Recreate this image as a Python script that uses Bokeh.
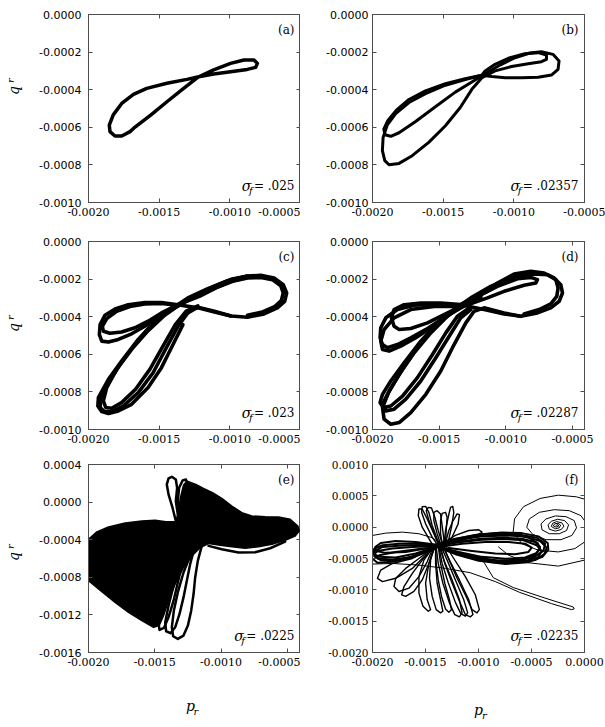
import numpy as np
from bokeh.plotting import figure
from bokeh.models import Range1d, FixedTicker, PrintfTickFormatter, LinearAxis, Label
from bokeh.layouts import gridplot
from bokeh.embed import file_html
from bokeh.resources import INLINE

# Phase portraits (p_r, q_r). All coordinate lists are in units of 1e-4.
UNIT = 1e-4

# ---------------- axis ticks and annotations ----------------
x_ticks = [-0.0020, -0.0015, -0.0010, -0.0005]
x_ticks_f = [-0.0020, -0.0015, -0.0010, -0.0005, 0.0]
y_ticks_ad = [0.0, -0.0002, -0.0004, -0.0006, -0.0008, -0.0010]
y_ticks_e = [0.0004, 0.0, -0.0004, -0.0008, -0.0012, -0.0016]
y_ticks_f = [0.0010, 0.0005, 0.0, -0.0005, -0.0010, -0.0015, -0.0020]
panel_tags = ["(a)", "(b)", "(c)", "(d)", "(e)", "(f)"]
sigma_values = [".025", ".02357", ".023", ".02287", ".0225", ".02235"]

# ---------------- (a) sigma_f = .025 : period-1 orbit ----------------
a_p = [-12.2, -11.14, -9.95, -9.0, -8.29, -8.05, -8.17, -8.77, -9.95, -11.14, -12.2, -13.03, -14.45,
       -15.88, -16.82, -17.65, -18.25, -18.53, -18.48, -18.13, -17.65, -17.06, -16.8, -15.6, -14.45, -13.27, -12.2]
a_q = [-3.31, -2.95, -2.6, -2.42, -2.42, -2.6, -2.81, -2.92, -3.04, -3.17, -3.31, -3.45, -3.66,
       -3.93, -4.25, -4.73, -5.34, -5.88, -6.23, -6.46, -6.46, -6.23, -6.05, -5.35, -4.64, -3.93, -3.31]

# ---------------- (b) sigma_f = .02357 : period-2 orbit ----------------
b1_p = [-12.26, -13.44, -14.84, -16.25, -17.42, -18.31, -18.92, -19.20, -19.11, -18.71, -18.12, -16.95, -15.55, -14.14, -12.97,
        -12.03, -10.98, -9.92, -8.87, -8.05, -7.23, -6.80, -6.87, -7.34, -8.28, -9.45, -10.62, -11.56, -12.26]
b1_q = [-3.23, -3.41, -3.68, -4.06, -4.52, -5.09, -5.65, -6.10, -6.40, -6.48, -6.29, -5.69, -4.91, -4.13, -3.59,
        -3.15, -2.69, -2.30, -2.05, -1.98, -2.12, -2.47, -2.92, -3.22, -3.34, -3.37, -3.36, -3.30, -3.23]
b2_p = [-12.26, -13.44, -14.84, -16.25, -17.42, -18.36, -18.95, -19.25, -19.30, -19.13, -18.83, -18.12, -17.19, -16.02, -14.84,
        -13.79, -12.97, -12.26, -11.33, -10.16, -8.98, -8.05, -7.69, -7.69, -8.28, -9.22, -10.39, -11.33, -12.03, -12.26]
b2_q = [-3.23, -3.46, -3.76, -4.21, -4.68, -5.27, -5.87, -6.54, -7.24, -7.77, -7.99, -7.92, -7.51, -6.80, -5.92,
        -4.95, -3.98, -3.36, -3.00, -2.77, -2.62, -2.51, -2.39, -2.16, -2.03, -2.09, -2.33, -2.65, -3.00, -3.23]

# ---------------- (c) sigma_f = .023 ----------------
c_r1_p = [-13.67, -12.26, -11.09, -9.92, -8.75, -7.81, -6.87, -6.22, -5.98, -6.12, -6.64, -7.58, -8.75, -9.92, -11.09, -12.26, -13.67]
c_r1_q = [-3.36, -2.83, -2.39, -2.01, -1.84, -1.80, -1.94, -2.30, -2.74, -3.18, -3.53, -3.85, -4.03, -3.96, -3.75, -3.53, -3.36]
c_r2_p = [-12.97, -12.15, -10.98, -9.80, -8.75, -7.81, -6.99, -6.40, -6.22, -6.36, -6.83, -7.69, -8.75]
c_r2_q = [-3.15, -2.92, -2.47, -2.12, -1.94, -1.91, -2.03, -2.35, -2.74, -3.15, -3.46, -3.75, -3.92]
c_s1_p = [-13.67, -14.84, -16.02, -17.19, -18.12, -18.83, -19.18, -19.23, -19.06, -18.59, -17.89, -16.95, -16.02, -15.08,
          -14.14, -12.97, -11.56, -10.16, -8.75]
c_s1_q = [-3.36, -3.25, -3.25, -3.36, -3.59, -3.92, -4.42, -4.95, -5.30, -5.35, -5.21, -4.91, -4.51, -4.03,
          -3.62, -3.15, -2.62, -2.16, -1.87]
c_s2_p = [-13.67, -14.84, -16.02, -17.07, -18.01, -18.71, -19.02, -18.95, -18.48, -17.66, -16.72, -15.78, -14.84, -13.91,
          -12.73, -11.33, -9.92, -8.51]
c_s2_q = [-3.39, -3.30, -3.32, -3.46, -3.71, -4.10, -4.51, -4.77, -4.88, -4.81, -4.59, -4.24, -3.80, -3.45,
          -3.04, -2.56, -2.12, -1.86]
c_b1_p = [-8.75, -10.16, -11.56, -12.97, -14.37, -15.55, -16.72, -17.77, -18.59, -19.11, -19.18, -18.87, -18.36, -17.54,
          -16.48, -15.43, -14.49, -13.67, -12.97, -12.26, -11.09, -9.92]
c_b1_q = [-1.84, -2.09, -2.51, -3.00, -3.71, -4.51, -5.48, -6.54, -7.51, -8.30, -8.83, -9.05, -9.05, -8.75,
          -8.04, -6.98, -5.65, -4.51, -3.80, -3.50, -3.71, -3.96]
c_b2_p = [-8.98, -10.39, -11.80, -13.20, -14.61, -15.78, -16.95, -18.01, -18.71, -18.95, -18.78, -18.36, -17.66, -16.67,
          -15.66, -14.73, -13.86, -13.09, -12.26]
c_b2_q = [-1.91, -2.19, -2.65, -3.18, -3.92, -4.74, -5.74, -6.80, -7.77, -8.48, -8.83, -8.87, -8.57, -7.86,
          -6.80, -5.57, -4.42, -3.71, -3.43]
c_b3_p = [-14.14, -15.31, -16.48, -17.66, -18.59, -19.30, -19.34, -19.06, -18.59, -17.89, -16.95, -15.78, -14.84, -14.02, -13.32]
c_b3_q = [-3.53, -4.24, -5.21, -6.36, -7.33, -8.30, -8.75, -9.05, -9.15, -9.01, -8.66, -7.77, -6.71, -5.48, -4.42]

# ---------------- (d) sigma_f = .02287 ----------------
d_r1_p = [-13.38, -11.88, -10.63, -9.38, -8.13, -7.13, -6.38, -5.88, -5.75, -6.00, -6.63, -7.63, -8.88, -10.13, -11.63, -13.38]
d_r1_q = [-3.36, -2.74, -2.21, -1.73, -1.59, -1.68, -1.94, -2.30, -2.74, -3.18, -3.53, -3.80, -3.98, -3.85, -3.62, -3.36]
d_r2_p = [-12.63, -11.38, -10.13, -8.88, -7.88, -6.88, -6.25, -6.08, -6.18, -6.63, -7.50, -8.63]
d_r2_q = [-3.09, -2.65, -2.12, -1.77, -1.73, -1.77, -2.03, -2.47, -2.92, -3.32, -3.62, -3.85]
d_r3_p = [-12.13, -10.63, -9.13, -8.13, -7.63, -7.75, -8.63, -10.13, -11.38, -12.60]
d_r3_q = [-2.92, -2.39, -1.98, -1.91, -2.03, -2.21, -2.33, -2.65, -3.00, -3.30]
d_s1_p = [-13.38, -14.88, -16.38, -17.63, -18.38, -18.58, -18.38, -18.00, -17.13, -15.88, -14.63, -13.38, -11.88]
d_s1_q = [-3.36, -3.27, -3.27, -3.36, -3.62, -4.06, -4.51, -4.68, -4.63, -4.33, -3.89, -3.45, -2.92]
d_s2_p = [-13.38, -15.13, -16.88, -18.13, -19.00, -19.38, -19.43, -19.25, -18.88, -18.13, -17.13, -15.88, -14.63, -13.38, -11.88]
d_s2_q = [-3.39, -3.32, -3.39, -3.62, -4.06, -4.59, -5.12, -5.48, -5.65, -5.48, -5.12, -4.63, -4.06, -3.53, -2.97]
d_s3_p = [-13.63, -15.38, -17.13, -18.38, -19.13, -19.38, -19.25, -18.75, -17.88, -16.75, -15.63, -14.38]
d_s3_q = [-3.45, -3.45, -3.62, -4.06, -4.68, -5.30, -5.74, -5.83, -5.57, -5.12, -4.59, -3.98]
d_b1_p = [-8.13, -9.63, -11.13, -12.63, -14.13, -15.38, -16.63, -17.75, -18.75, -19.25, -19.13, -18.63, -18.00, -17.13,
          -16.00, -14.88, -13.88, -13.00, -12.38, -11.63, -10.13, -8.88]
d_b1_q = [-1.68, -1.94, -2.39, -3.00, -3.75, -4.59, -5.65, -6.80, -7.95, -8.83, -9.45, -9.72, -9.63, -9.10,
          -8.13, -6.89, -5.48, -4.33, -3.71, -3.53, -3.80, -3.98]
d_b2_p = [-8.38, -9.88, -11.38, -12.88, -14.38, -15.63, -16.88, -18.00, -18.88, -19.25, -19.00, -18.38, -17.50, -16.38,
          -15.25, -14.25, -13.38, -12.63]
d_b2_q = [-1.77, -2.09, -2.56, -3.18, -3.98, -4.86, -5.92, -7.07, -8.13, -8.66, -9.01, -8.92, -8.39, -7.42,
          -6.18, -5.04, -4.06, -3.62]
d_b3_p = [-13.88, -15.13, -16.38, -17.63, -18.63, -19.25, -19.43, -19.18, -18.63, -17.75, -16.63, -15.50, -14.50, -13.63, -12.75]
d_b3_q = [-3.62, -4.33, -5.30, -6.45, -7.42, -8.13, -8.57, -8.83, -8.75, -8.22, -7.24, -6.01, -4.86, -3.98, -3.53]

# ---------------- (e) sigma_f = .0225 : chaotic attractor ----------------
e_core_p = [-20.00, -19.37, -18.49, -17.23, -15.97, -14.97, -14.16, -13.41, -13.21, -13.06, -12.83, -12.55, -12.25, -11.90,
            -11.32, -10.64, -9.94, -9.18, -8.43, -7.67, -6.67, -5.66, -4.78, -4.20, -4.10, -4.40, -5.16, -6.16, -7.17,
            -8.17, -9.18, -10.06, -10.94, -11.57, -12.20, -12.83, -13.46, -13.96, -14.34, -14.67, -15.09, -15.97, -16.98,
            -17.99, -18.99, -20.00]
e_core_q = [-3.95, -3.17, -2.64, -2.22, -2.01, -1.94, -2.08, -2.08, -0.95, 0.47, 1.81, 2.23, 2.06, 1.88,
            1.46, 1.00, 0.40, -0.42, -1.12, -1.48, -1.55, -1.58, -1.83, -2.54, -3.07, -3.60, -4.06, -4.48, -4.76,
            -4.91, -4.76, -4.59, -4.41, -4.84, -5.72, -6.96, -8.72, -10.49, -12.08, -13.14, -13.32, -12.61, -11.73,
            -10.67, -9.54, -8.37]
e_t1_p = [-13.41, -13.66, -13.96, -14.09, -13.96, -13.71, -13.41, -13.31, -13.41, -13.26]
e_t1_q = [-2.01, -0.59, 0.82, 1.88, 2.52, 2.69, 2.41, 1.53, 0.11, -1.30]
e_t2_p = [-13.08, -13.26, -13.16, -12.90, -12.65, -12.50, -12.63, -12.70]
e_t2_q = [-1.65, 0.11, 1.53, 2.30, 2.41, 1.88, 0.47, -0.95]
e_rb_p = [-10.94, -9.94, -8.68, -7.42, -6.29, -5.16]
e_rb_q = [-4.66, -5.01, -5.37, -5.33, -4.91, -4.20]
e_b1_p = [-11.45, -11.75, -11.95, -12.07, -12.25, -12.50, -12.83, -13.26, -13.61, -13.71, -13.56, -13.26, -12.83, -12.33, -11.82]
e_b1_q = [-4.66, -6.25, -8.02, -9.78, -11.55, -13.14, -14.20, -14.55, -14.27, -13.32, -11.55, -9.61, -7.49, -5.72, -4.66]
e_b2_p = [-12.00, -12.33, -12.58, -12.83, -13.13, -13.46, -13.81, -14.14, -14.21, -13.96, -13.58, -13.16, -12.58]
e_b2_q = [-4.84, -6.60, -8.37, -10.14, -11.90, -13.32, -13.95, -13.74, -12.79, -11.02, -8.90, -6.78, -5.12]
e_b3_p = [-12.58, -12.96, -13.26, -13.58, -13.96, -14.31, -14.64, -14.72, -14.46, -14.09, -13.66, -13.16]
e_b3_q = [-5.01, -6.78, -8.55, -10.49, -12.26, -13.39, -13.60, -12.79, -11.02, -9.08, -7.13, -5.37]
e_b4_p = [-13.21, -13.58, -13.96, -14.34, -14.72, -15.02, -15.22, -14.97, -14.59, -14.16, -13.71]
e_b4_q = [-5.37, -7.31, -9.25, -11.20, -12.61, -13.14, -12.61, -10.84, -8.90, -6.96, -5.54]

# ---------------- (f) sigma_f = .02235 : transient and escape ----------------
f_sp_p = [-2.69, -2.50, -2.44, -2.69, -2.94, -2.82, -2.50, -2.25, -2.38, -2.75, -3.13, -3.00, -2.63, -2.13, -1.94,
          -2.19, -2.75, -3.32, -3.44, -3.13, -2.53, -1.88, -1.50, -1.69, -2.38, -3.32, -4.01, -4.10, -3.63, -2.75,
          -1.75, -0.97, -0.75, -1.19, -2.22, -3.63, -4.88, -5.45, -5.20, -4.26, -2.85, -1.44, -0.34, 0.00]
f_sp_q = [0.26, 0.42, 0.16, 0.00, 0.21, 0.53, 0.63, 0.32, -0.11, -0.26, 0.11, 0.63, 0.89, 0.68, 0.16,
          -0.37, -0.63, -0.32, 0.37, 0.95, 1.26, 1.05, 0.37, -0.53, -1.05, -1.05, -0.42, 0.53, 1.32, 1.79,
          1.68, 1.05, -0.11, -1.32, -2.00, -2.00, -1.16, 0.00, 1.32, 2.37, 2.79, 2.63, 1.84, 1.05]
f_ring_p = [0.00, -0.91, -2.47, -4.35, -5.92, -6.73, -6.60, -5.76, -4.19, -2.47, -0.75, 0.00]
f_ring_q = [-2.37, -3.42, -3.95, -3.68, -2.63, -0.79, 1.32, 3.26, 4.58, 5.11, 4.84, 4.47]
f_low_p = [-8.11, -7.17, -5.29, -2.47, 0.00]
f_low_q = [-3.16, -4.47, -5.68, -6.21, -5.26]
f_long_p = [-9.55, -8.61, -6.73, -3.72, -1.06, -0.97, -1.22, -3.10, -6.10, -8.42, -10.80, -13.11, -15.62, -18.12, -20.00]
f_long_q = [-5.42, -8.05, -9.63, -11.32, -12.74, -13.05, -13.16, -12.21, -10.42, -8.68, -7.26, -6.58, -6.05, -5.79, -5.89]
f_arc_p = [-20.00, -18.75, -17.18, -15.62, -14.37, -13.58]
f_arc_q = [-1.32, -0.95, -0.79, -1.05, -1.68, -2.63]

f_r1_p = [-14.05, -12.49, -10.61, -8.42, -6.23, -4.51, -3.72, -3.88, -4.82, -6.54, -8.73, -10.92, -12.80, -14.05]
f_r1_q = [-2.89, -2.21, -1.58, -1.16, -1.16, -1.68, -2.63, -3.79, -4.84, -5.37, -5.26, -4.47, -3.58, -2.89]
f_r2_p = [-14.05, -12.18, -9.98, -7.79, -5.92, -4.66, -4.19, -4.51, -5.60, -7.48, -9.67, -11.86, -13.74]
f_r2_q = [-3.05, -2.42, -1.89, -1.68, -1.84, -2.37, -3.16, -4.10, -4.84, -5.05, -4.74, -3.95, -3.16]
f_r3_p = [-13.90, -11.86, -9.67, -7.48, -5.60, -4.19, -3.57, -3.79, -4.66, -6.54, -8.73, -10.92, -12.80, -13.90]
f_r3_q = [-2.74, -2.00, -1.47, -1.32, -1.47, -2.21, -3.26, -4.31, -5.26, -5.68, -5.58, -4.84, -3.79, -3.16]
f_r4_p = [-13.74, -11.55, -9.36, -7.17, -5.60, -4.98, -5.29, -6.54, -8.42, -10.61, -12.80]
f_r4_q = [-3.16, -2.63, -2.37, -2.37, -2.63, -3.26, -3.95, -4.31, -4.21, -3.79, -3.32]
f_r5_p = [-14.05, -12.18, -9.98, -7.79, -5.92, -4.35, -3.47, -3.41, -3.97, -5.29, -7.48, -9.98, -12.18, -13.90]
f_r5_q = [-2.84, -1.84, -1.16, -0.84, -0.95, -1.47, -2.53, -3.58, -4.74, -5.58, -5.89, -5.37, -4.31, -3.16]
f_r6_p = [-13.90, -11.86, -9.67, -7.48, -5.76, -4.51, -4.04, -4.35, -5.45, -7.48, -9.67, -11.86, -13.74]
f_r6_q = [-2.95, -2.42, -2.00, -1.89, -2.10, -2.89, -3.79, -4.74, -5.37, -5.53, -5.16, -4.31, -3.26]
f_r7_p = [-14.05, -12.49, -10.30, -8.11, -6.54, -5.29, -4.41, -4.19, -4.66, -5.92, -8.11, -10.30, -12.49, -13.90]
f_r7_q = [-2.79, -2.00, -1.26, -0.95, -1.16, -1.68, -2.53, -3.47, -4.47, -5.16, -5.37, -4.84, -3.79, -3.05]

f_l1_p = [-14.05, -15.62, -17.50, -19.06, -19.84, -19.91, -19.37, -17.81, -15.93, -14.05]
f_l1_q = [-2.89, -2.63, -2.63, -2.89, -3.42, -4.21, -4.74, -4.84, -4.21, -3.16]
f_l2_p = [-14.05, -16.24, -18.12, -19.53, -19.84, -19.53, -18.12, -16.24, -14.05]
f_l2_q = [-3.00, -3.16, -3.42, -3.79, -4.31, -5.00, -5.16, -4.74, -3.26]
f_l3_p = [-13.90, -15.93, -17.81, -19.22, -19.75, -19.69, -18.75, -16.87, -14.99, -13.90]
f_l3_q = [-2.79, -2.37, -2.21, -2.53, -3.16, -3.79, -4.10, -3.95, -3.42, -3.00]
f_l4_p = [-14.05, -15.93, -17.81, -19.37, -19.91, -19.53, -18.12, -16.24, -14.05]
f_l4_q = [-3.16, -3.58, -3.95, -4.47, -5.16, -5.68, -5.53, -4.84, -3.42]
f_l5_p = [-13.90, -15.62, -17.50, -19.06, -19.75, -19.84, -19.22, -17.50, -15.62, -13.90]
f_l5_q = [-2.95, -2.84, -2.95, -3.16, -3.79, -4.63, -5.26, -5.26, -4.31, -3.16]

f_u1_p = [-13.74, -14.37, -14.99, -15.37, -15.31, -14.99, -14.68, -14.37, -13.90, -13.58]
f_u1_q = [-3.16, -1.58, 0.53, 2.37, 3.26, 3.32, 2.37, 0.26, -1.84, -3.16]
f_u2_p = [-13.58, -14.12, -14.68, -14.93, -14.74, -14.43, -14.12, -13.80, -13.43]
f_u2_q = [-3.16, -1.32, 1.05, 2.63, 3.16, 3.05, 1.58, -0.53, -2.63]
f_u3_p = [-13.49, -13.90, -14.21, -14.21, -13.90, -13.58, -13.43, -13.27, -13.27]
f_u3_q = [-3.16, -1.05, 1.05, 2.37, 2.63, 2.11, 0.26, -1.84, -3.16]
f_u4_p = [-13.36, -13.58, -13.58, -13.43, -13.11, -12.96, -13.05, -13.11]
f_u4_q = [-3.16, -1.05, 1.05, 2.21, 2.37, 1.58, -0.53, -2.63]
f_u5_p = [-13.27, -13.11, -12.86, -12.64, -12.43, -12.33, -12.55, -12.86]
f_u5_q = [-2.89, -0.53, 1.58, 3.16, 3.32, 2.37, 0.00, -2.37]
f_u6_p = [-14.21, -14.68, -15.31, -15.68, -15.62, -15.31, -14.84, -14.21, -13.74]
f_u6_q = [-3.16, -1.84, 0.00, 1.84, 2.89, 2.89, 1.32, -1.05, -2.89]
f_u7_p = [-13.18, -12.80, -12.39, -12.02, -11.80, -11.92, -12.49, -12.96]
f_u7_q = [-2.89, -0.53, 1.05, 2.11, 2.00, 0.53, -1.58, -2.89]
f_u8_p = [-13.43, -12.18, -10.92, -9.98, -9.67, -10.30, -11.86, -13.27]
f_u8_q = [-2.63, -1.32, -0.53, -0.42, -0.79, -1.47, -2.21, -2.89]

f_d1_p = [-13.74, -13.27, -12.49, -11.80, -11.55, -11.80, -12.24, -12.74, -13.36, -13.80, -13.99]
f_d1_q = [-2.89, -5.26, -8.42, -11.58, -13.68, -14.31, -13.95, -12.10, -8.95, -5.79, -3.16]
f_d2_p = [-13.43, -12.74, -11.80, -10.92, -10.52, -10.77, -11.24, -11.80, -12.55, -13.18, -13.58]
f_d2_q = [-2.89, -5.26, -8.42, -11.58, -13.95, -14.31, -13.95, -11.84, -8.68, -5.79, -3.16]
f_d3_p = [-13.11, -12.33, -11.24, -10.30, -9.92, -10.14, -10.61, -11.17, -12.02, -12.74, -13.27]
f_d3_q = [-2.89, -5.00, -7.89, -10.79, -13.16, -13.68, -13.16, -11.05, -8.16, -5.37, -3.16]
f_d4_p = [-14.05, -14.05, -13.90, -13.58, -13.36, -13.58, -13.99, -14.37, -14.62, -14.52, -14.21]
f_d4_q = [-3.16, -5.79, -8.95, -11.58, -13.42, -13.68, -13.16, -11.05, -8.16, -5.26, -3.42]
f_d5_p = [-14.21, -14.68, -14.99, -14.84, -14.52, -14.74, -15.24, -15.62, -15.62, -15.15, -14.37]
f_d5_q = [-3.26, -5.79, -8.95, -11.58, -13.16, -13.42, -12.63, -10.53, -7.89, -5.26, -3.42]
f_d6_p = [-14.37, -15.31, -16.24, -17.03, -17.25, -16.87, -16.09, -15.31, -14.68, -14.21]
f_d6_q = [-3.42, -5.26, -7.37, -9.47, -10.79, -11.05, -10.26, -8.42, -5.79, -3.58]
f_d7_p = [-14.52, -15.62, -16.87, -17.81, -17.97, -17.50, -16.56, -15.62, -14.84, -14.37]
f_d7_q = [-3.58, -5.00, -6.58, -8.16, -9.47, -10.26, -9.74, -7.89, -5.53, -3.58]
f_d8_p = [-14.68, -16.24, -18.12, -19.22, -19.53, -19.06, -17.81, -16.24, -14.84]
f_d8_q = [-3.58, -5.00, -5.79, -6.84, -8.16, -8.68, -8.16, -6.58, -4.21]
f_d9_p = [-13.58, -12.96, -12.18, -11.39, -11.02, -11.24, -11.67, -12.18, -12.86, -13.43, -13.74]
f_d9_q = [-2.89, -5.26, -8.42, -11.58, -13.68, -14.21, -13.79, -12.00, -8.84, -5.79, -3.16]
f_d10_p = [-13.80, -13.58, -13.18, -12.74, -12.55, -12.80, -13.11, -13.49, -13.80, -13.99, -14.05]
f_d10_q = [-3.05, -5.79, -8.95, -11.58, -13.16, -13.58, -13.05, -11.05, -8.42, -5.79, -3.16]

# ---------------- styling / layout ----------------
FRAME = "#4d4d4d"
SERIF = "DejaVu Serif"
SANS = "DejaVu Sans"
FW, FH = 212, 188   # plot frame size in px
STRIP_W = 30        # column holding the q_r titles
ROW_H = [226, 224, 232]
TITLE_ROW_H = 45    # row holding the p_r titles

# advance widths (em) of DejaVu Serif glyphs used in the sigma labels
EM = {"=": 0.838, " ": 0.318, ".": 0.318}


def text_width(s, size):
    return sum(EM.get(ch, 0.636) for ch in s) * size


def tick_axis(ticks, visible_labels, font, size, standoff):
    ax = LinearAxis(ticker=FixedTicker(ticks=ticks))
    ax.formatter = PrintfTickFormatter(format="%.4f")
    ax.major_tick_in = 4
    ax.major_tick_out = 0
    ax.minor_tick_line_color = None
    ax.axis_line_color = FRAME
    ax.major_tick_line_color = FRAME
    if visible_labels:
        ax.major_label_text_font = font
        ax.major_label_text_font_size = size
        ax.major_label_text_color = "black"
        ax.major_label_standoff = standoff
    else:
        ax.major_label_text_color = None
        ax.major_label_text_font_size = "1px"
        ax.major_label_standoff = 0
    return ax


def label(p, x, y, text, size="12px", style="normal", align="left", baseline="alphabetic", angle=0.0):
    p.add_layout(Label(x=x, y=y, x_units="screen", y_units="screen", text=text,
                       text_font=SERIF, text_font_size=size, text_font_style=style,
                       text_align=align, text_baseline=baseline, angle=angle,
                       text_color="black"))


def blank(width, height):
    p = figure(width=width, height=height, x_range=Range1d(0, 1), y_range=Range1d(0, 1),
               x_axis_type=None, y_axis_type=None, output_backend="svg", toolbar_location=None,
               min_border_left=0, min_border_right=0, min_border_top=0, min_border_bottom=0,
               background_fill_color="white", border_fill_color="white")
    p.outline_line_color = None
    p.grid.visible = False
    return p


def panel(col, top, bottom, xr, yr, xticks, yticks, ylab_font, ylab_size, idx):
    left = 88 - STRIP_W if col == 0 else 72
    right = 0 if col == 0 else 21
    p = figure(width=left + FW + right, height=top + FH + bottom,
               x_range=Range1d(*xr), y_range=Range1d(*yr),
               x_axis_type=None, y_axis_type=None,
               output_backend="svg", toolbar_location=None,
               min_border_left=left, min_border_right=right,
               min_border_top=top, min_border_bottom=bottom,
               background_fill_color="white", border_fill_color="white")
    p.outline_line_color = FRAME
    p.outline_line_width = 1
    p.add_layout(tick_axis(xticks, True, SERIF, "11px", 5), "below")
    p.add_layout(tick_axis(yticks, True, ylab_font, ylab_size, 7 if col == 0 else 4), "left")
    p.add_layout(tick_axis(xticks, False, None, None, 0), "above")
    p.add_layout(tick_axis(yticks, False, None, None, 0), "right")

    # panel tag, top right
    label(p, FW - 6, FH - 8, panel_tags[idx], size="12px", baseline="top", align="right")
    # sigma_f value, bottom right
    val = "= " + sigma_values[idx]
    x_eq = FW - 6 - text_width(val, 12)
    label(p, FW - 6, 17, val, size="12px", align="right")
    label(p, x_eq - 2.5, 17, "\u03c3", size="14px", style="italic", align="right")
    label(p, x_eq - 5, 12, "f", size="10px", style="italic", align="left")
    return p


def draw(p, xs, ys, w):
    p.line(np.array(xs) * UNIT, np.array(ys) * UNIT, line_color="black", line_width=w,
           line_join="round", line_cap="round")


XR = (-0.0020, -0.0005)
pa = panel(0, 14, ROW_H[0] - 14 - FH, XR, (-0.0010, 0.0), x_ticks, y_ticks_ad, SANS, "11px", 0)
pb = panel(1, 14, ROW_H[0] - 14 - FH, XR, (-0.0010, 0.0), x_ticks, y_ticks_ad, SANS, "11px", 1)
pc = panel(0, 15, ROW_H[1] - 15 - FH, XR, (-0.0010, 0.0), x_ticks, y_ticks_ad, SANS, "11px", 2)
pd = panel(1, 15, ROW_H[1] - 15 - FH, (-0.0020, -0.00041), (-0.0010, 0.0), x_ticks, y_ticks_ad, SANS, "11px", 3)
pe = panel(0, 14, ROW_H[2] - 14 - FH, (-0.0020, -0.0004), (-0.0016, 0.0004), x_ticks, y_ticks_e, SANS, "11px", 4)
pf = panel(1, 14, ROW_H[2] - 14 - FH, (-0.0020, 0.0), (-0.0020, 0.0010), x_ticks_f, y_ticks_f, SERIF, "10.5px", 5)

# (a)
draw(pa, a_p, a_q, 3.5)
# (b)
for xs, ys in [(b1_p, b1_q), (b2_p, b2_q)]:
    draw(pb, xs, ys, 3.0)
# (c)
for xs, ys in [(c_r1_p, c_r1_q), (c_r2_p, c_r2_q), (c_s1_p, c_s1_q), (c_s2_p, c_s2_q),
               (c_b1_p, c_b1_q), (c_b2_p, c_b2_q), (c_b3_p, c_b3_q)]:
    draw(pc, xs, ys, 3.6)
# (d)
for xs, ys in [(d_r1_p, d_r1_q), (d_r2_p, d_r2_q), (d_r3_p, d_r3_q), (d_s1_p, d_s1_q),
               (d_s2_p, d_s2_q), (d_s3_p, d_s3_q), (d_b1_p, d_b1_q), (d_b2_p, d_b2_q), (d_b3_p, d_b3_q)]:
    draw(pd, xs, ys, 3.6)
# (e)
pe.patch(np.array(e_core_p) * UNIT, np.array(e_core_q) * UNIT, fill_color="black",
         line_color="black", line_width=1.5, line_join="round")
for xs, ys in [(e_t1_p, e_t1_q), (e_t2_p, e_t2_q), (e_rb_p, e_rb_q), (e_b1_p, e_b1_q),
               (e_b2_p, e_b2_q), (e_b3_p, e_b3_q), (e_b4_p, e_b4_q)]:
    draw(pe, xs, ys, 2.5)
# (f)
for xs, ys in [(f_r1_p, f_r1_q), (f_r2_p, f_r2_q), (f_r3_p, f_r3_q), (f_r4_p, f_r4_q), (f_r5_p, f_r5_q),
               (f_r6_p, f_r6_q), (f_r7_p, f_r7_q),
               (f_l1_p, f_l1_q), (f_l2_p, f_l2_q), (f_l3_p, f_l3_q), (f_l4_p, f_l4_q), (f_l5_p, f_l5_q)]:
    draw(pf, xs, ys, 2.0)
for xs, ys in [(f_u1_p, f_u1_q), (f_u2_p, f_u2_q), (f_u3_p, f_u3_q), (f_u4_p, f_u4_q), (f_u5_p, f_u5_q),
               (f_u6_p, f_u6_q), (f_u7_p, f_u7_q), (f_u8_p, f_u8_q),
               (f_d1_p, f_d1_q), (f_d2_p, f_d2_q), (f_d3_p, f_d3_q), (f_d4_p, f_d4_q),
               (f_d5_p, f_d5_q), (f_d6_p, f_d6_q), (f_d7_p, f_d7_q), (f_d8_p, f_d8_q),
               (f_d9_p, f_d9_q), (f_d10_p, f_d10_q)]:
    draw(pf, xs, ys, 1.4)
for xs, ys in [(f_sp_p, f_sp_q), (f_ring_p, f_ring_q), (f_low_p, f_low_q), (f_long_p, f_long_q),
               (f_arc_p, f_arc_q)]:
    draw(pf, xs, ys, 1.0)

# q_r titles in a narrow left column; each strip's frame lines up with its row's plot frame,
# so positions are measured up from that frame's bottom edge.
q_strips = []
for q_up, h in zip([112, 102, 96], ROW_H):
    s = blank(STRIP_W, h)
    label(s, 13, q_up, "q", size="14px", style="italic", align="center", baseline="middle", angle=np.pi / 2)
    label(s, 9.5, q_up + 10, "r", size="10px", style="italic", align="center", baseline="middle", angle=np.pi / 2)
    q_strips.append(s)

# p_r titles under the bottom row; strip frames line up with the plot frames above them
p_left = blank(88 - STRIP_W + FW, TITLE_ROW_H)
label(p_left, 102, 21.5, "p", size="14px", style="italic", align="center", baseline="middle")
label(p_left, 107.5, 16, "r", size="10px", style="italic", align="center", baseline="middle")
p_right = blank(72 + FW + 21, TITLE_ROW_H)
label(p_right, 106, 17.5, "p", size="14px", style="italic", align="center", baseline="middle")
label(p_right, 112, 12, "r", size="10px", style="italic", align="center", baseline="middle")

grid = gridplot([[q_strips[0], pa, pb],
                 [q_strips[1], pc, pd],
                 [q_strips[2], pe, pf],
                 [None, p_left, p_right]], toolbar_location=None)

with open("out.html", "w") as fh:
    fh.write(file_html(grid, INLINE))
